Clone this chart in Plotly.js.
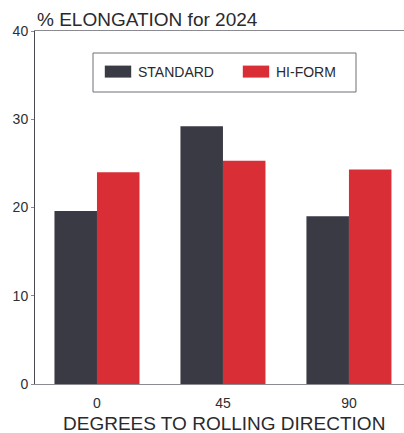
<!DOCTYPE html>
<html>
<head>
<meta charset="utf-8">
<script src="https://cdn.plot.ly/plotly-3.0.1.min.js"></script>
<style>html,body{margin:0;padding:0;background:#fff;}#chart{width:404px;height:433px;}</style>
</head>
<body>
<div id="chart"></div>
<script>
var categories = ["0", "45", "90"];
var standardValues = [19.6, 29.2, 19.0];
var hiFormValues = [24.0, 25.3, 24.3];
var yTickValues = [0, 10, 20, 30, 40];
var seriesNames = ["STANDARD", "HI-FORM"];
var xTitle = "DEGREES TO ROLLING DIRECTION";

var W = 404, H = 433;
var L = 35, R = 0, T = 31, B = 49;
var pw = W - L - R, ph = H - T - B;
function px(x) { return (x - L) / pw; }
function py(y) { return (H - B - y) / ph; }

var traces = [
  { type: "bar", name: seriesNames[0], x: categories, y: standardValues,
    marker: { color: "#3a3a44", line: { width: 0 } } },
  { type: "bar", name: seriesNames[1], x: categories, y: hiFormValues,
    marker: { color: "#d92e36", line: { width: 0 } } }
];

var layout = {
  width: W, height: H,
  margin: { l: L, r: R, t: T, b: B, pad: 0 },
  paper_bgcolor: "#fff", plot_bgcolor: "#fff",
  font: { family: "Liberation Sans, Arial, sans-serif", color: "#2e2e33" },
  barmode: "group", bargap: 0.325, bargroupgap: 0,
  title: { text: "% ELONGATION for 2024", font: { size: 19, color: "#2a2a2e" },
    xref: "paper", x: px(37), xanchor: "left", yref: "container", y: 1 - 19 / H, yanchor: "middle" },
  xaxis: {
    type: "category", range: [-0.492, 2.437],
    showline: true, linecolor: "#8a8a90", linewidth: 1, mirror: true,
    ticks: "", showgrid: false, zeroline: false, ticklabelstandoff: 6,
    tickfont: { size: 14, color: "#2e2e33" }
  },
  yaxis: {
    range: [0, 40], tickvals: yTickValues, ticktext: yTickValues.map(String),
    showline: true, linecolor: "#4a4a55", linewidth: 1,
    ticks: "outside", ticklen: 3, tickcolor: "#8a8a90",
    showgrid: false, zeroline: false,
    tickfont: { size: 14, color: "#2e2e33" }
  },
  annotations: [
    { text: xTitle, xref: "paper", yref: "paper", x: px(224), y: py(423),
      xanchor: "center", yanchor: "middle", showarrow: false,
      font: { size: 19, color: "#2a2a2e" } }
  ],
  showlegend: true,
  legend: {
    orientation: "h", x: px(98), xanchor: "left", y: py(72), yanchor: "middle",
    bgcolor: "rgba(0,0,0,0)", borderwidth: 0,
    font: { size: 14, color: "#2a2a2e" },
    entrywidth: 93, entrywidthmode: "pixels", itemwidth: 30
  },
  shapes: [
    { type: "rect", xref: "paper", yref: "paper", x0: px(93), x1: px(356), y0: py(92), y1: py(53),
      line: { color: "#707078", width: 1 }, fillcolor: "rgba(0,0,0,0)", layer: "below" }
  ]
};

Plotly.newPlot("chart", traces, layout, { displayModeBar: false, staticPlot: true }).then(function () {
  var pts = document.querySelectorAll(".legend .legendpoints path");
  pts.forEach(function (p) {
    var t = p.getAttribute("transform") || "";
    p.setAttribute("transform", t + " scale(2.2,1)");
  });
});
</script>
</body>
</html>
